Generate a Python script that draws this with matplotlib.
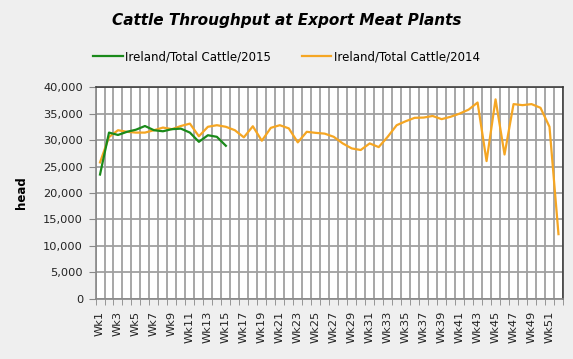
import matplotlib.pyplot as plt
import numpy as np

# weekly throughput (head)
weeks = np.arange(1, 53)
week_labels = [f"Wk{w}" for w in weeks]

cattle_2015 = [23500, 31450, 31000, 31600, 32000, 32700, 31900, 31700, 32100, 32200,
               31450, 29700, 30950, 30650, 28950]

cattle_2014 = [25800, 30600, 31900, 31600, 31450, 31450, 31900, 32400, 32100, 32700,
               33150, 30750, 32550, 32850, 32550, 31900, 30550, 32650, 29900, 32350,
               32850, 32250, 29600, 31600, 31400, 31250, 30650, 29400, 28450, 28150,
               29400, 28700, 30650, 32850, 33600, 34250, 34300, 34600, 34000, 34450,
               35050, 35800, 37150, 26050, 37750, 27300, 36850, 36650, 36850, 36150,
               32550, 12200]

fig = plt.figure(figsize=(5.73, 3.59), dpi=100)
fig.patch.set_facecolor("#efefef")
ax = fig.add_axes([0.1667, 0.1685, 0.8158, 0.5878])
ax.set_facecolor("white")

l15, = ax.plot(weeks[:len(cattle_2015)], cattle_2015, color="#1a8a1a", lw=1.6,
               label="Ireland/Total Cattle/2015", zorder=4)
l14, = ax.plot(weeks, cattle_2014, color="#f5a623", lw=1.6,
               label="Ireland/Total Cattle/2014", zorder=3)

ax.set_xlim(0.5, 52.5)
ax.set_ylim(0, 40000)
ax.set_yticks(np.arange(0, 40001, 5000))
ax.set_yticklabels([f"{v:,}" for v in range(0, 40001, 5000)], fontsize=8.2, color="#222222")

ax.set_xticks(weeks[::2])
ax.set_xticklabels(week_labels[::2], rotation=90, fontsize=8.2, color="#222222")
ax.set_xticks(np.arange(0.5, 53, 1), minor=True)
ax.tick_params(axis="x", which="major", length=0, pad=9)
ax.tick_params(axis="x", which="minor", length=4, color="#888888", direction="out")
ax.tick_params(axis="y", length=5, color="#888888", direction="out", pad=4)

ax.grid(True, axis="x", which="minor", color="#a0a0a0", lw=1.3)
ax.grid(True, axis="y", which="major", color="#a0a0a0", lw=1.3)
ax.set_axisbelow(True)

for side in ["left", "bottom"]:
    ax.spines[side].set_color("#888888")
    ax.spines[side].set_linewidth(1.2)
for side in ["top", "right"]:
    ax.spines[side].set_color("#333333")
    ax.spines[side].set_linewidth(1.1)

ax.set_ylabel("head", fontsize=8.5, fontweight="bold", labelpad=11)

fig.text(0.5, 0.944, "Cattle Throughput at Export Meat Plants", ha="center", va="center",
         fontsize=11, fontweight="bold", fontstyle="italic")
fig.legend(handles=[l15, l14], loc="center", bbox_to_anchor=(0.5, 0.841), ncol=2,
           frameon=False, fontsize=8.5, handlelength=2.5, handletextpad=0.2,
           columnspacing=2.6)

fig.savefig("out.png", dpi=100, facecolor=fig.get_facecolor())
